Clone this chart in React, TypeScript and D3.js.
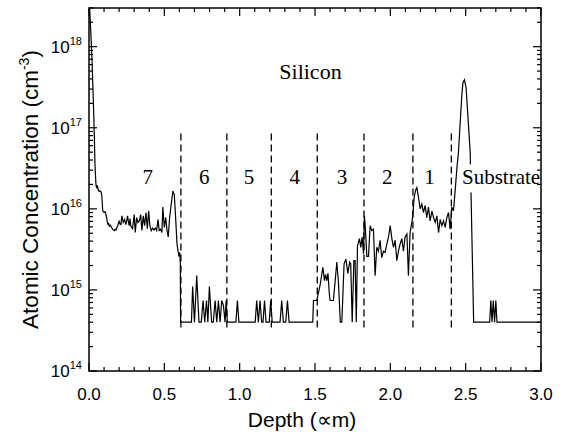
import React from "react";
import * as d3 from "d3";

// Depth profile (µm) and atomic concentration (cm^-3)
const depth = [
  0.0, 0.006, 0.012, 0.018, 0.024, 0.029, 0.035, 0.04, 0.046, 0.051, 0.055, 0.062, 0.067, 0.073, 0.08, 0.085,
  0.091, 0.1, 0.108, 0.117, 0.124, 0.13, 0.135, 0.141, 0.146, 0.152, 0.157, 0.163, 0.168, 0.174, 0.179, 0.185,
  0.19, 0.195, 0.2, 0.206, 0.212, 0.218, 0.227, 0.236, 0.245, 0.256, 0.262, 0.267, 0.272, 0.278, 0.289, 0.3,
  0.307, 0.316, 0.325, 0.334, 0.343, 0.351, 0.36, 0.369, 0.378, 0.387, 0.396, 0.404, 0.413, 0.422, 0.431, 0.44,
  0.449, 0.458, 0.466, 0.475, 0.484, 0.49, 0.5, 0.509, 0.518, 0.526, 0.535, 0.546, 0.557, 0.566, 0.575, 0.584,
  0.591, 0.597, 0.602, 0.606, 0.608,
  0.68, 0.688, 0.7, 0.715, 0.73, 0.745, 0.757, 0.768, 0.78, 0.789, 0.799, 0.814, 0.825, 0.837, 0.848, 0.859,
  0.87, 0.881, 0.892, 0.903, 0.91, 0.918,
  0.975, 0.985, 0.995, 1.103, 1.113, 1.124, 1.135, 1.146, 1.155, 1.165, 1.175, 1.196, 1.206, 1.216,
  1.268, 1.279, 1.29, 1.306, 1.317, 1.328, 1.485, 1.49, 1.512,
  1.534, 1.552, 1.563, 1.57, 1.578, 1.586, 1.595, 1.6, 1.622, 1.645, 1.656, 1.668, 1.678, 1.693, 1.705, 1.718,
  1.73, 1.737, 1.747, 1.758, 1.766, 1.774, 1.782, 1.795, 1.804, 1.813, 1.822, 1.828, 1.835, 1.844, 1.855, 1.866,
  1.877, 1.888, 1.899, 1.91, 1.921, 1.932, 1.943, 1.954, 1.965, 1.977, 1.988, 1.999, 2.01, 2.021, 2.032, 2.043,
  2.054, 2.065, 2.076, 2.087, 2.098, 2.11, 2.12, 2.131, 2.143, 2.149, 2.158, 2.168, 2.176, 2.187, 2.198, 2.209,
  2.22, 2.231, 2.242, 2.253, 2.264, 2.276, 2.287, 2.298, 2.309, 2.32, 2.331, 2.342, 2.353, 2.364, 2.375, 2.386,
  2.397, 2.408, 2.419, 2.43, 2.442, 2.452, 2.463, 2.475, 2.482, 2.492, 2.503, 2.53, 2.553,
  2.659, 2.667, 2.675, 2.683, 2.692, 2.7, 2.708, 3.0,
];

const conc = [
  5e18, 2.6e18, 1.5e18, 8.7e17, 4e17, 2.1e17, 8.3e16, 3.4e16, 2e16, 1.8e16, 1.95e16, 1.7e16, 1.65e16, 1.66e16, 1.62e16, 1.45e16,
  9.5e15, 9e15, 9.2e15, 7.8e15, 6.5e15, 6.6e15, 6.1e15, 6.3e15, 6.1e15, 5.8e15, 5.6e15, 5.5e15, 5.4e15, 5.6e15, 5.5e15, 5.9e15,
  6.1e15, 6.6e15, 7e15, 6.5e15, 6.4e15, 8.2e15, 6.8e15, 7.4e15, 6.4e15, 8.2e15, 6.8e15, 6.2e15, 7.6e15, 6.1e15, 5.7e15, 8.5e15,
  5.1e15, 7.8e15, 6.8e15, 7.1e15, 8.5e15, 5.4e15, 8.2e15, 6.2e15, 9e15, 5.7e15, 9.4e15, 6.2e15, 5.4e15, 5.8e15, 5.5e15, 5.8e15,
  5.4e15, 7.4e15, 5.4e15, 5.6e15, 5.1e15, 1.05e16, 5.9e15, 7.8e15, 5.4e15, 4.5e15, 7.8e15, 1.15e16, 1.66e16, 1.5e16, 7.8e15, 3.7e15,
  3e15, 2.6e15, 2.9e15, 2.1e15, 4e14,
  4e14, 1.1e15, 4e14, 1.5e15, 4e14, 4e14, 7.4e14, 4e14, 7.4e14, 4e14, 1.1e15, 4e14, 4e14, 7.4e14, 4e14, 7.4e14,
  4e14, 7.4e14, 6.5e14, 4e14, 7.4e14, 4e14,
  4e14, 7.4e14, 4e14, 4e14, 7.4e14, 4e14, 7.4e14, 4e14, 4e14, 7.4e14, 4e14, 4e14, 7.4e14, 4e14,
  4e14, 7.4e14, 4e14, 4e14, 7.4e14, 4e14, 4e14, 7.4e14, 7.4e14,
  1.15e15, 1.9e15, 1.3e15, 1.55e15, 1.3e15, 1.6e15, 9e14, 7.4e14, 7.4e14, 2.2e15, 1.2e15, 4e14, 4e14, 2.1e15, 2.4e15, 1.6e15,
  2.2e15, 2.1e15, 4e14, 2.3e15, 2.3e15, 4e14, 3.5e15, 4.3e15, 3.35e15, 4.5e15, 2.8e15, 8.2e15, 5.4e15, 2.6e15, 2.6e15, 6.2e15,
  5.4e15, 5.6e15, 1.5e15, 3.35e15, 3e15, 4.1e15, 2.5e15, 3e15, 2.9e15, 3.7e15, 4.5e15, 6.2e15, 4.3e15, 3.35e15, 4.1e15, 2.3e15,
  3e15, 3.7e15, 4.3e15, 3e15, 4.5e15, 4.9e15, 1.5e15, 5.1e15, 6.8e15, 8.2e15, 1.38e16, 1.7e16, 1.83e16, 1.38e16, 1e16, 1.15e16,
  9e15, 1.1e16, 7.8e15, 1.05e16, 7.1e15, 9.4e15, 7.8e15, 6.8e15, 8.2e15, 5.1e15, 7.4e15, 6.2e15, 7.1e15, 5.9e15, 7.8e15, 9e15,
  5.6e15, 1.05e16, 9.4e15, 1.66e16, 3.2e16, 5e16, 1.1e17, 2.6e17, 3.6e17, 3.9e17, 3.1e17, 5e16, 4e14,
  4e14, 7.4e14, 4e14, 7.4e14, 4e14, 7.4e14, 4e14, 4e14,
];

// Layer boundaries (dashed) and layer labels
const boundaries = [0.61, 0.915, 1.21, 1.515, 1.825, 2.15, 2.405];
const boundaryTop = 8.5e16;
const boundaryBottom = 3.2e14;
const layerNames = ["7", "6", "5", "4", "3", "2", "1"];
const layerLabelDepth = [0.39, 0.765, 1.062, 1.365, 1.68, 1.98, 2.26];
const layerLabelLevel = 2e16;

const xMajorTicks = [0, 0.5, 1.0, 1.5, 2.0, 2.5, 3.0];
const xTickLabels = ["0.0", "0.5", "1.0", "1.5", "2.0", "2.5", "3.0"];
const yMajorExponents = [14, 15, 16, 17, 18];

const W = 564;
const H = 432;
const plot = { left: 89, right: 541, top: 8, bottom: 371 };

const SANS = "'Liberation Sans', Arial, Helvetica, sans-serif";
const SERIF = "'Liberation Serif', 'Times New Roman', serif";

export default function App() {
  const x = d3.scaleLinear().domain([0, 3]).range([plot.left, plot.right]);
  const y = d3.scaleLog().domain([1e14, 3e18]).range([plot.bottom, plot.top]);

  const points: [number, number][] = depth.map((d, i) => [d, conc[i]]);
  const line = d3
    .line<[number, number]>()
    .x((p) => x(p[0]))
    .y((p) => y(p[1]));

  const xMinor = d3.range(0, 3.0001, 0.1).filter(
    (v) => !xMajorTicks.some((m) => Math.abs(m - v) < 1e-6)
  );
  const yMinor = y
    .ticks()
    .filter((v) => {
      const e = Math.log10(v);
      return Math.abs(e - Math.round(e)) > 1e-6;
    });

  const major = 8;
  const minor = 4;

  const subX = x(2.735);
  const subY = y(layerLabelLevel);

  return (
    <svg
      width={W}
      height={H}
      style={{ position: "absolute", left: 0, top: 0, background: "#fff" }}
    >
      <defs>
        <clipPath id="plotClip">
          <rect
            x={plot.left}
            y={plot.top}
            width={plot.right - plot.left}
            height={plot.bottom - plot.top}
          />
        </clipPath>
      </defs>
      <rect x={0} y={0} width={W} height={H} fill="#fff" />

      {/* layer boundaries */}
      {boundaries.map((b, i) => (
        <line
          key={"b" + i}
          x1={x(b)}
          x2={x(b)}
          y1={y(boundaryTop)}
          y2={y(boundaryBottom)}
          stroke="#000"
          strokeWidth={1.3}
          strokeDasharray="7,4"
        />
      ))}

      {/* concentration profile */}
      <path
        d={line(points) || ""}
        fill="none"
        stroke="#000"
        strokeWidth={1.2}
        strokeLinejoin="miter"
        clipPath="url(#plotClip)"
      />

      {/* layer labels */}
      {layerNames.map((n, i) => (
        <text
          key={"l" + i}
          x={x(layerLabelDepth[i])}
          y={y(layerLabelLevel)}
          textAnchor="middle"
          fontFamily={SERIF}
          fontSize={21}
          fill="#000"
        >
          {n}
        </text>
      ))}
      <rect x={subX - 42} y={subY - 20} width={plot.right - subX + 42} height={28} fill="#fff" />
      <text
        x={subX}
        y={subY}
        textAnchor="middle"
        fontFamily={SERIF}
        fontSize={21}
        fill="#000"
      >
        Substrate
      </text>
      <text
        x={x(1.47)}
        y={y(4e17)}
        textAnchor="middle"
        fontFamily={SERIF}
        fontSize={22}
        fill="#000"
      >
        Silicon
      </text>

      {/* frame */}
      <rect
        x={plot.left}
        y={plot.top}
        width={plot.right - plot.left}
        height={plot.bottom - plot.top}
        fill="none"
        stroke="#000"
        strokeWidth={1.5}
      />

      {/* x ticks (bottom and top, inward) */}
      {xMajorTicks.map((v, i) => (
        <g key={"xm" + i}>
          <line x1={x(v)} x2={x(v)} y1={plot.bottom} y2={plot.bottom - major} stroke="#000" strokeWidth={1.2} />
          <line x1={x(v)} x2={x(v)} y1={plot.top} y2={plot.top + major} stroke="#000" strokeWidth={1.2} />
          <text
            x={x(v)}
            y={400}
            textAnchor="middle"
            fontFamily={SANS}
            fontSize={17}
            fill="#000"
          >
            {xTickLabels[i]}
          </text>
        </g>
      ))}
      {xMinor.map((v, i) => (
        <g key={"xn" + i}>
          <line x1={x(v)} x2={x(v)} y1={plot.bottom} y2={plot.bottom - minor} stroke="#000" strokeWidth={1.2} />
          <line x1={x(v)} x2={x(v)} y1={plot.top} y2={plot.top + minor} stroke="#000" strokeWidth={1.2} />
        </g>
      ))}

      {/* y ticks (left and right, inward) */}
      {yMajorExponents.map((e) => {
        const yy = y(Math.pow(10, e));
        return (
          <g key={"ym" + e}>
            <line x1={plot.left} x2={plot.left + major} y1={yy} y2={yy} stroke="#000" strokeWidth={1.2} />
            <line x1={plot.right} x2={plot.right - major} y1={yy} y2={yy} stroke="#000" strokeWidth={1.2} />
            <text
              x={82}
              y={yy + 6}
              textAnchor="end"
              fontFamily={SANS}
              fontSize={17}
              fill="#000"
            >
              10
              <tspan dy={-8} fontSize={11}>
                {e}
              </tspan>
            </text>
          </g>
        );
      })}
      {yMinor.map((v, i) => {
        const yy = y(v);
        return (
          <g key={"yn" + i}>
            <line x1={plot.left} x2={plot.left + minor} y1={yy} y2={yy} stroke="#000" strokeWidth={1.2} />
            <line x1={plot.right} x2={plot.right - minor} y1={yy} y2={yy} stroke="#000" strokeWidth={1.2} />
          </g>
        );
      })}

      {/* axis titles */}
      <text
        x={302}
        y={427}
        textAnchor="middle"
        fontFamily={SANS}
        fontSize={21}
        fill="#000"
      >
        Depth (∝m)
      </text>
      <text
        transform={`translate(38, ${(plot.top + plot.bottom) / 2}) rotate(-90)`}
        textAnchor="middle"
        fontFamily={SANS}
        fontSize={22.5}
        fill="#000"
      >
        Atomic Concentration (cm
        <tspan dy={-9} fontSize={14}>
          -3
        </tspan>
        <tspan dy={9}>)</tspan>
      </text>
    </svg>
  );
}
